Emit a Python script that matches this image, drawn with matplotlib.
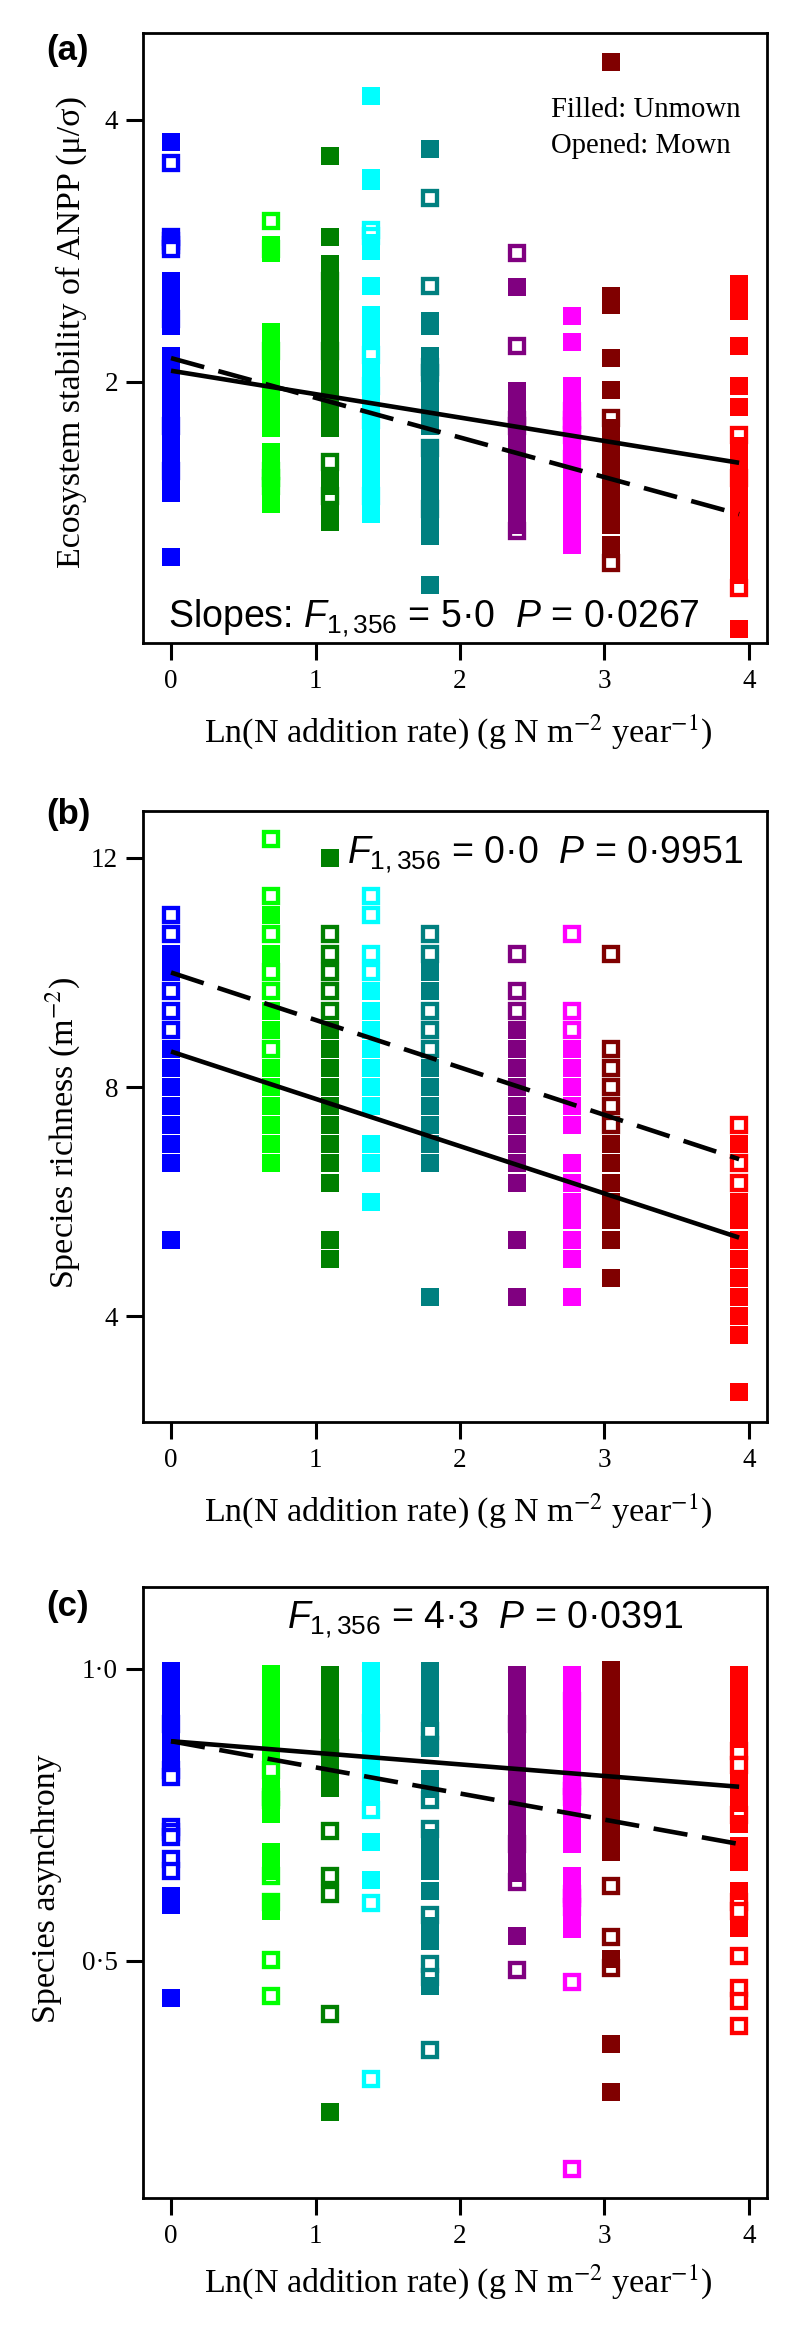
import matplotlib
matplotlib.use("Agg")
import matplotlib.pyplot as plt
from matplotlib.ticker import NullLocator, FixedLocator

plt.rcParams['font.family'] = ['Liberation Serif', 'DejaVu Serif']
plt.rcParams['mathtext.fontset'] = 'custom'
plt.rcParams['mathtext.rm'] = 'Liberation Sans'
plt.rcParams['mathtext.it'] = 'Liberation Sans:italic'
plt.rcParams['mathtext.bf'] = 'Liberation Sans:bold'

# ---------------- data ----------------
n_rates = [0, 1, 2, 3, 5, 10, 15, 20, 50]
x_ln = [0.0, 0.693, 1.099, 1.386, 1.792, 2.398, 2.773, 3.045, 3.932]
colors = ['#0000FF', '#00FF00', '#008000', '#00FFFF', '#008080',
          '#800080', '#FF00FF', '#800000', '#FF0000']
fit_x = [0.0, 3.932]

# (a) ecosystem stability of ANPP
a_unmown = [
    [3.77, 2.61, 2.55, 2.49, 2.43, 2.37, 2.32, 2.14, 2.05, 1.97, 1.90, 1.82, 1.75, 1.68, 1.62, 1.55, 1.49, 1.26],
    [2.87, 2.81, 2.28, 2.20, 2.13, 2.06, 1.99, 1.92, 1.85, 1.77, 1.66, 1.60, 1.55, 1.50, 1.45],
    [3.63, 2.93, 2.73, 2.64, 2.56, 2.48, 2.40, 2.32, 2.24, 2.16, 2.09, 2.02, 1.95, 1.88, 1.82, 1.77, 1.56, 1.52, 1.41, 1.38],
    [4.26, 3.43, 3.40, 2.89, 2.83, 2.58, 2.39, 2.32, 2.25, 2.08, 2.01, 1.95, 1.89, 1.83, 1.77, 1.72, 1.66, 1.61, 1.56, 1.51, 1.46, 1.41],
    [3.70, 2.35, 2.32, 2.14, 2.06, 1.98, 1.91, 1.84, 1.78, 1.67, 1.60, 1.53, 1.47, 1.41, 1.35, 1.33, 1.17],
    [2.57, 1.95, 1.88, 1.82, 1.76, 1.70, 1.64, 1.58, 1.53, 1.48, 1.42, 1.37],
    [2.38, 2.22, 1.98, 1.91, 1.84, 1.78, 1.71, 1.65, 1.59, 1.53, 1.47, 1.41, 1.36, 1.30],
    [4.66, 2.51, 2.45, 2.13, 1.96, 1.77, 1.71, 1.65, 1.59, 1.53, 1.47, 1.42, 1.37, 1.30],
    [2.59, 2.52, 2.46, 2.41, 2.20, 1.98, 1.87, 1.69, 1.63, 1.58, 1.53, 1.48, 1.43, 1.38, 1.33, 1.28, 1.24, 1.20, 1.04],
]
a_mown = [
    [3.57, 2.93, 2.90, 2.87, 2.84, 2.36, 1.78, 1.58],
    [3.06, 2.84, 2.17, 1.58, 1.55, 1.52],
    [2.61, 2.17, 1.62, 1.48],
    [2.99, 2.94, 2.15, 1.98, 1.81, 1.48],
    [3.25, 2.58, 2.08, 2.05, 1.68, 1.43],
    [2.81, 2.20, 1.81, 1.78, 1.35],
    [1.85, 1.81, 1.78, 1.74, 1.63],
    [1.82, 1.24],
    [1.74, 1.55, 1.16],
]
a_fit_unmown = [2.06, 1.615]
a_fit_mown = [2.13, 1.41]

# (b) species richness
b_unmown = [
    [10.33, 10.0, 8.67, 8.33, 8.0, 7.67, 7.33, 7.0, 6.67, 5.33],
    [11.0, 10.33, 9.33, 9.0, 8.33, 8.0, 7.67, 7.33, 7.0, 6.67],
    [12.0, 9.0, 8.67, 8.33, 8.0, 7.67, 7.33, 7.0, 6.67, 6.33, 5.33, 5.0],
    [9.67, 9.33, 9.0, 8.67, 8.33, 8.0, 7.67, 7.0, 6.67, 6.0],
    [10.0, 9.67, 8.33, 8.0, 7.67, 7.33, 7.0, 6.67, 4.33],
    [9.0, 8.67, 8.33, 8.0, 7.67, 7.33, 7.0, 6.67, 6.33, 5.33, 4.33],
    [8.67, 8.33, 8.0, 7.67, 7.33, 6.67, 6.33, 6.0, 5.67, 5.33, 5.0, 4.33],
    [7.0, 6.67, 6.33, 6.0, 5.67, 5.33, 4.67],
    [7.0, 6.0, 5.67, 5.33, 5.0, 4.67, 4.33, 4.0, 3.67, 2.67],
]
b_mown = [
    [11.0, 10.67, 9.67, 9.33, 9.0],
    [12.33, 11.33, 10.67, 10.0, 9.67, 8.67],
    [10.67, 10.33, 10.0, 9.67, 9.33],
    [11.33, 11.0, 10.33, 10.0],
    [10.67, 10.33, 9.33, 9.0, 8.67],
    [10.33, 9.67, 9.33],
    [10.67, 9.33, 9.0],
    [10.33, 8.67, 8.33, 8.0, 7.67, 7.33],
    [7.33, 6.67, 6.33],
]
b_fit_unmown = [8.62, 5.37]
b_fit_mown = [10.0, 6.74]

# (c) species asynchrony
c_unmown = [
    [0.997, 0.977, 0.957, 0.937, 0.917, 0.897, 0.877, 0.861, 0.845, 0.611, 0.595, 0.436],
    [0.991, 0.971, 0.951, 0.931, 0.911, 0.891, 0.871, 0.851, 0.800, 0.780, 0.765, 0.752, 0.687, 0.670, 0.654, 0.597, 0.586],
    [0.990, 0.970, 0.950, 0.930, 0.910, 0.890, 0.870, 0.850, 0.830, 0.810, 0.796, 0.242],
    [0.997, 0.977, 0.957, 0.937, 0.917, 0.897, 0.877, 0.857, 0.837, 0.817, 0.797, 0.780, 0.703, 0.638],
    [0.996, 0.976, 0.956, 0.936, 0.916, 0.864, 0.811, 0.795, 0.710, 0.690, 0.670, 0.654, 0.619, 0.560, 0.545, 0.534, 0.457],
    [0.989, 0.969, 0.949, 0.929, 0.909, 0.889, 0.869, 0.849, 0.829, 0.809, 0.789, 0.769, 0.749, 0.729, 0.709, 0.689, 0.669, 0.651, 0.542],
    [0.990, 0.970, 0.950, 0.930, 0.910, 0.890, 0.870, 0.850, 0.830, 0.810, 0.790, 0.770, 0.750, 0.730, 0.710, 0.700, 0.645, 0.600, 0.585, 0.570, 0.555],
    [0.998, 0.978, 0.958, 0.938, 0.918, 0.898, 0.878, 0.858, 0.838, 0.818, 0.798, 0.778, 0.758, 0.738, 0.718, 0.703, 0.687, 0.503, 0.357, 0.275],
    [0.989, 0.969, 0.949, 0.929, 0.909, 0.889, 0.880, 0.810, 0.790, 0.771, 0.735, 0.697, 0.683, 0.670, 0.619, 0.557],
]
c_mown = [
    [0.905, 0.826, 0.814, 0.729, 0.720, 0.712, 0.675, 0.654],
    [0.826, 0.780, 0.775, 0.646, 0.600, 0.502, 0.439],
    [0.865, 0.722, 0.646, 0.615, 0.409],
    [0.908, 0.758, 0.599, 0.298],
    [0.893, 0.870, 0.776, 0.725, 0.578, 0.494, 0.473, 0.347],
    [0.905, 0.700, 0.635, 0.484],
    [0.945, 0.800, 0.790, 0.780, 0.615, 0.607, 0.593, 0.464, 0.143],
    [0.628, 0.541, 0.487],
    [0.860, 0.835, 0.750, 0.600, 0.586, 0.508, 0.454, 0.432, 0.388],
]
c_fit_unmown = [0.876, 0.798]
c_fit_mown = [0.876, 0.700]

x_ticks = [0, 1, 2, 3, 4]
x_label = r'Ln(N addition rate) (g N m$^{-2}$ year$^{-1}$)'

# ---------------- figure ----------------
W, H = 800, 2334
fig = plt.figure(figsize=(W / 100, H / 100), dpi=100)

SERIF = ['Liberation Serif', 'DejaVu Serif']
SANS = ['Liberation Sans', 'DejaVu Sans']


def px_axes(left, top, right, bottom):
    return fig.add_axes([left / W, 1 - bottom / H, (right - left) / W, (bottom - top) / H])


def ftext(x, y, s, **kw):
    return fig.text(x / W, 1 - y / H, s, **kw)


def draw_panel(ax, filled, opened, fit_un, fit_mo):
    for x, c, vals in zip(x_ln, colors, opened):
        ax.plot([x] * len(vals), vals, ls='none', marker='s', ms=10.3, mew=3.1,
                mec=c, mfc='white', zorder=2)
    for x, c, vals in zip(x_ln, colors, filled):
        ax.plot([x] * len(vals), vals, ls='none', marker='s', ms=13.2, mew=0,
                color=c, zorder=3)
    ax.plot(fit_x, fit_un, color='black', lw=3.3, solid_capstyle='butt', zorder=4)
    ax.plot(fit_x, fit_mo, color='black', lw=3.3, ls=(0, (7.5, 3.2)),
            dash_capstyle='butt', zorder=4)
    ax.set_xlim(-0.194, 4.125)
    ax.xaxis.set_major_locator(FixedLocator(x_ticks))
    ax.set_xticklabels([str(t) for t in x_ticks])
    for sp in ax.spines.values():
        sp.set_linewidth(2.0)
    ax.tick_params(direction='out', length=12, width=2.2, labelsize=19.5)
    ax.tick_params(axis='x', pad=7)
    ax.tick_params(axis='y', pad=6)
    ax.yaxis.set_minor_locator(NullLocator())
    ax.xaxis.set_minor_locator(NullLocator())


# panel (a)
axa = px_axes(143, 33, 767, 643)
axa.set_yscale('log')
draw_panel(axa, a_unmown, a_mown, a_fit_unmown, a_fit_mown)
axa.set_ylim(1.003, 5.03)
axa.yaxis.set_major_locator(FixedLocator([2, 4]))
axa.yaxis.set_minor_locator(NullLocator())
axa.set_yticklabels(['2', '4'])

# panel (b)
axb = px_axes(143, 811, 767, 1422)
draw_panel(axb, b_unmown, b_mown, b_fit_unmown, b_fit_mown)
axb.set_ylim(2.15, 12.82)
axb.yaxis.set_major_locator(FixedLocator([4, 8, 12]))
axb.set_yticklabels(['4', '8', '12'])

# panel (c)
axc = px_axes(143, 1587, 767, 2198)
draw_panel(axc, c_unmown, c_mown, c_fit_unmown, c_fit_mown)
axc.set_ylim(0.094, 1.140)
axc.yaxis.set_major_locator(FixedLocator([0.5, 1.0]))
axc.set_yticklabels(['0\u00b75', '1\u00b70'])

for ax in (axa, axb, axc):
    for lbl in ax.get_xticklabels() + ax.get_yticklabels():
        lbl.set_fontfamily(SERIF)
        lbl.set_fontsize(19.5)

# panel letters
for s, yb in (('(a)', 60), ('(b)', 824), ('(c)', 1616)):
    ftext(46, yb, s, family=SANS, weight='bold', size=25, ha='left', va='baseline')

# x labels
for yb in (743, 1522, 2293):
    ftext(458, yb, x_label, family=SERIF, size=24.5, ha='center', va='baseline',
          math_fontfamily='stix')

# y labels
ftext(80, 332, 'Ecosystem stability of ANPP (\u03bc/\u03c3)', family=SERIF, size=24.5,
      rotation=90, rotation_mode='anchor', ha='center', va='baseline')
ftext(73, 1133, r'Species richness (m$^{-2}$)', family=SERIF, size=24.5,
      rotation=90, rotation_mode='anchor', ha='center', va='baseline', math_fontfamily='stix')
ftext(55, 1889, 'Species asynchrony', family=SERIF, size=24.5,
      rotation=90, rotation_mode='anchor', ha='center', va='baseline')

# legend-like note in (a)
ftext(551, 117, 'Filled: Unmown', family=SERIF, size=20.7, ha='left', va='baseline')
ftext(551, 153, 'Opened: Mown', family=SERIF, size=20.7, ha='left', va='baseline')

# statistics
ftext(168, 627, 'Slopes: $\\mathit{F}_{1,356}$ = 5\u00b70  $\\mathit{P}$ = 0\u00b70267',
      family=SANS, size=27, ha='left', va='baseline', math_fontfamily='custom')
ftext(347, 863, '$\\mathit{F}_{1,356}$ = 0\u00b70  $\\mathit{P}$ = 0\u00b79951',
      family=SANS, size=27, ha='left', va='baseline', math_fontfamily='custom')
ftext(287, 1628, '$\\mathit{F}_{1,356}$ = 4\u00b73  $\\mathit{P}$ = 0\u00b70391',
      family=SANS, size=27, ha='left', va='baseline', math_fontfamily='custom')

fig.savefig('out.png', dpi=100, facecolor='white')
